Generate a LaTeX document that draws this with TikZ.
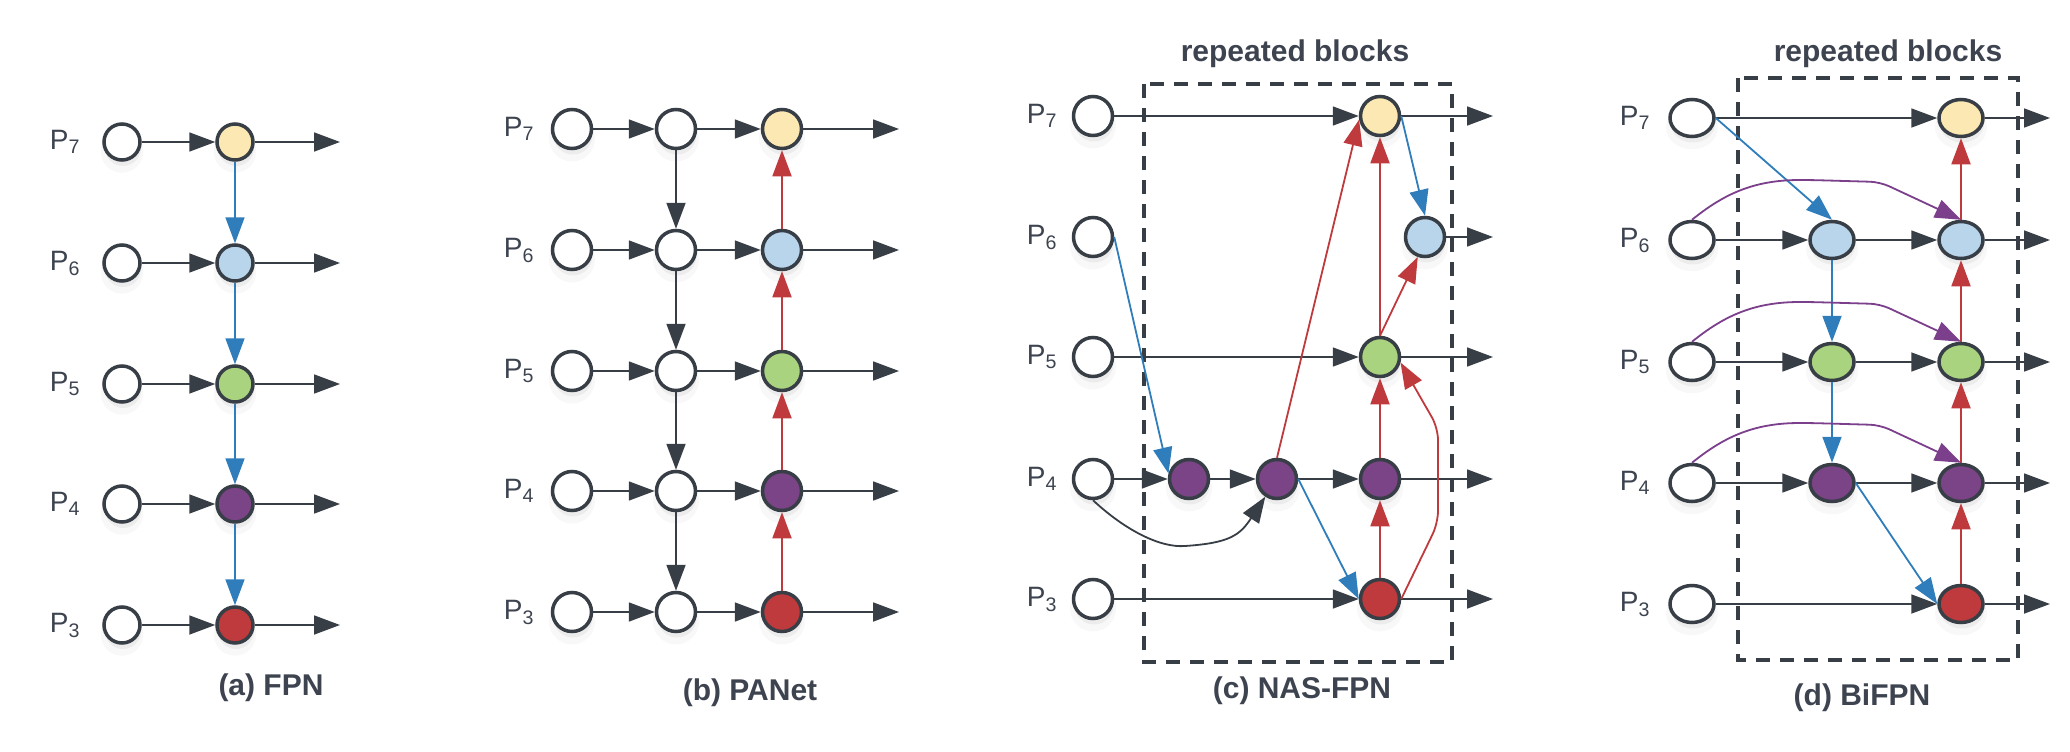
\documentclass[tikz,border=0pt]{standalone}
\usepackage{fontspec}
\setmainfont{Liberation Sans}
\usetikzlibrary{arrows.meta,shapes.geometric,shadows}

\definecolor{edgegray}{HTML}{383E46}
\definecolor{txtgray}{HTML}{3D4450}
\definecolor{fpnyellow}{HTML}{FCE8B2}
\definecolor{fpnblue}{HTML}{B8D5EC}
\definecolor{fpngreen}{HTML}{A9D37E}
\definecolor{fpnpurple}{HTML}{7B4486}
\definecolor{fpnred}{HTML}{BE3A3C}
\definecolor{arrblue}{HTML}{2F7DBB}
\definecolor{arrred}{HTML}{BF3A3D}
\definecolor{arrpurple}{HTML}{7B3F8C}

\begin{document}
\begin{tikzpicture}[x=1pt,y=-1pt,
  pnode/.style={circle,draw=edgegray,line width=3.5pt,fill=white,minimum size=39pt,inner sep=0pt,
    drop shadow={shadow xshift=0pt,shadow yshift=-8pt,shadow scale=1.18,opacity=0.06},
    drop shadow={shadow xshift=1pt,shadow yshift=-6pt,opacity=0.10}},
  snode/.style={pnode,minimum size=36pt},
  enode/.style={pnode,ellipse,minimum width=44pt,minimum height=37pt},
  hflow/.style={-{Triangle[length=26pt,width=19pt]},line width=1.8pt,draw=edgegray},
  tdflow/.style={hflow,draw=arrblue},
  buflow/.style={hflow,draw=arrred},
  skflow/.style={hflow,draw=arrpurple},
  lab/.style={font=\fontsize{28}{30}\selectfont,text=txtgray,anchor=base},
  ttl/.style={font=\bfseries\fontsize{30}{32}\selectfont,text=txtgray,anchor=base},
  blockbox/.style={draw=edgegray,line width=3.5pt,dash pattern=on 14pt off 10pt}]
\useasboundingbox (0,0) rectangle (2070,752);

% (a) FPN
\node[lab] (aP7) at (65,149) {P\textsubscript{7}};
\node[lab] (aP6) at (65,270) {P\textsubscript{6}};
\node[lab] (aP5) at (65,391) {P\textsubscript{5}};
\node[lab] (aP4) at (65,511) {P\textsubscript{4}};
\node[lab] (aP3) at (65,632) {P\textsubscript{3}};

\node[snode] (ai7) at (122,142) {};
\node[snode] (ai6) at (122,263) {};
\node[snode] (ai5) at (122,384) {};
\node[snode] (ai4) at (122,504) {};
\node[snode] (ai3) at (122,625) {};

\node[snode,fill=fpnyellow] (a7) at (235,142) {};
\node[snode,fill=fpnblue] (a6) at (235,263) {};
\node[snode,fill=fpngreen] (a5) at (235,384) {};
\node[snode,fill=fpnpurple] (a4) at (235,504) {};
\node[snode,fill=fpnred] (a3) at (235,625) {};

\coordinate (ao7) at (340,142);
\coordinate (ao6) at (340,263);
\coordinate (ao5) at (340,384);
\coordinate (ao4) at (340,504);
\coordinate (ao3) at (340,625);

\draw[hflow] (ai7) -- (a7);
\draw[hflow] (ai6) -- (a6);
\draw[hflow] (ai5) -- (a5);
\draw[hflow] (ai4) -- (a4);
\draw[hflow] (ai3) -- (a3);
\draw[hflow] (a7) -- (ao7);
\draw[hflow] (a6) -- (ao6);
\draw[hflow] (a5) -- (ao5);
\draw[hflow] (a4) -- (ao4);
\draw[hflow] (a3) -- (ao3);
\draw[tdflow] (a7) -- (a6);
\draw[tdflow] (a6) -- (a5);
\draw[tdflow] (a5) -- (a4);
\draw[tdflow] (a4) -- (a3);

\node[ttl] (atitle) at (271,695) {(a) FPN};

% (b) PANet
\node[lab] (bP7) at (519,136) {P\textsubscript{7}};
\node[lab] (bP6) at (519,257) {P\textsubscript{6}};
\node[lab] (bP5) at (519,378) {P\textsubscript{5}};
\node[lab] (bP4) at (519,498) {P\textsubscript{4}};
\node[lab] (bP3) at (519,619) {P\textsubscript{3}};

\node[pnode] (bi7) at (572,129) {};
\node[pnode] (bi6) at (572,250) {};
\node[pnode] (bi5) at (572,371) {};
\node[pnode] (bi4) at (572,491) {};
\node[pnode] (bi3) at (572,612) {};

\node[pnode] (bm7) at (676,129) {};
\node[pnode] (bm6) at (676,250) {};
\node[pnode] (bm5) at (676,371) {};
\node[pnode] (bm4) at (676,491) {};
\node[pnode] (bm3) at (676,612) {};

\node[pnode,fill=fpnyellow] (b7) at (782,129) {};
\node[pnode,fill=fpnblue] (b6) at (782,250) {};
\node[pnode,fill=fpngreen] (b5) at (782,371) {};
\node[pnode,fill=fpnpurple] (b4) at (782,491) {};
\node[pnode,fill=fpnred] (b3) at (782,612) {};

\coordinate (bo7) at (899,129);
\coordinate (bo6) at (899,250);
\coordinate (bo5) at (899,371);
\coordinate (bo4) at (899,491);
\coordinate (bo3) at (899,612);

\draw[hflow] (bi7) -- (bm7);
\draw[hflow] (bi6) -- (bm6);
\draw[hflow] (bi5) -- (bm5);
\draw[hflow] (bi4) -- (bm4);
\draw[hflow] (bi3) -- (bm3);
\draw[hflow] (bm7) -- (b7);
\draw[hflow] (bm6) -- (b6);
\draw[hflow] (bm5) -- (b5);
\draw[hflow] (bm4) -- (b4);
\draw[hflow] (bm3) -- (b3);
\draw[hflow] (b7) -- (bo7);
\draw[hflow] (b6) -- (bo6);
\draw[hflow] (b5) -- (bo5);
\draw[hflow] (b4) -- (bo4);
\draw[hflow] (b3) -- (bo3);
\draw[hflow] (bm7) -- (bm6);
\draw[hflow] (bm6) -- (bm5);
\draw[hflow] (bm5) -- (bm4);
\draw[hflow] (bm4) -- (bm3);
\draw[buflow] (b3) -- (b4);
\draw[buflow] (b4) -- (b5);
\draw[buflow] (b5) -- (b6);
\draw[buflow] (b6) -- (b7);

\node[ttl] (btitle) at (750,700) {(b) PANet};

% (c) NAS-FPN
\draw[blockbox] (1144,84) rectangle (1452,662);
\node[ttl] (crep) at (1295,62) {repeated blocks};

\node[lab] (cP7) at (1042,123) {P\textsubscript{7}};
\node[lab] (cP6) at (1042,244) {P\textsubscript{6}};
\node[lab] (cP5) at (1042,364) {P\textsubscript{5}};
\node[lab] (cP4) at (1042,486) {P\textsubscript{4}};
\node[lab] (cP3) at (1042,606) {P\textsubscript{3}};

\node[pnode] (ci7) at (1093,116) {};
\node[pnode] (ci6) at (1093,237) {};
\node[pnode] (ci5) at (1093,357) {};
\node[pnode] (ci4) at (1093,479) {};
\node[pnode] (ci3) at (1093,599) {};

\node[pnode,fill=fpnpurple] (c4a) at (1189,479) {};
\node[pnode,fill=fpnpurple] (c4b) at (1277,479) {};
\node[pnode,fill=fpnyellow] (c7) at (1380,116) {};
\node[pnode,fill=fpnblue] (c6) at (1425,237) {};
\node[pnode,fill=fpngreen] (c5) at (1380,357) {};
\node[pnode,fill=fpnpurple] (c4) at (1380,479) {};
\node[pnode,fill=fpnred] (c3) at (1380,599) {};

\coordinate (co7) at (1493,116);
\coordinate (co6) at (1493,237);
\coordinate (co5) at (1493,357);
\coordinate (co4) at (1493,479);
\coordinate (co3) at (1493,599);

\draw[hflow] (ci7) -- (c7);
\draw[hflow] (ci5) -- (c5);
\draw[hflow] (ci4) -- (c4a);
\draw[hflow] (c4a) -- (c4b);
\draw[hflow] (c4b) -- (c4);
\draw[hflow] (ci3) -- (c3);
\draw[hflow] (c7) -- (co7);
\draw[hflow] (c6) -- (co6);
\draw[hflow] (c5) -- (co5);
\draw[hflow] (c4) -- (co4);
\draw[hflow] (c3) -- (co3);
\draw[hflow] (ci4.south) .. controls (1125,530) and (1160,548) .. (1185,546)
  .. controls (1230,543) and (1240,535) .. (c4b);
\draw[tdflow] (ci6.east) -- (c4a.165);
\draw[tdflow] (c4b.east) -- (c3.west);
\draw[tdflow] (c7.east) -- (c6.north);
\draw[buflow] (c4b.north) -- (c7.190);
\draw[buflow] (c3) -- (c4);
\draw[buflow] (c4) -- (c5);
\draw[buflow] (c5) -- (c7);
\draw[buflow] (c5.north) -- (c6.250);
\draw[buflow,rounded corners=12pt] (c3.east) -- (1438,523) -- (1438,428) -- (c5.-15);

\node[ttl] (ctitle) at (1302,698) {(c) NAS-FPN};

% (d) BiFPN
\draw[blockbox] (1738,78) rectangle (2018,660);
\node[ttl] (drep) at (1888,62) {repeated blocks};

\node[lab] (dP7) at (1635,125) {P\textsubscript{7}};
\node[lab] (dP6) at (1635,247) {P\textsubscript{6}};
\node[lab] (dP5) at (1635,369) {P\textsubscript{5}};
\node[lab] (dP4) at (1635,490) {P\textsubscript{4}};
\node[lab] (dP3) at (1635,611) {P\textsubscript{3}};

\node[enode] (di7) at (1692,118) {};
\node[enode] (di6) at (1692,240) {};
\node[enode] (di5) at (1692,362) {};
\node[enode] (di4) at (1692,483) {};
\node[enode] (di3) at (1692,604) {};

\node[enode,fill=fpnblue] (dm6) at (1832,240) {};
\node[enode,fill=fpngreen] (dm5) at (1832,362) {};
\node[enode,fill=fpnpurple] (dm4) at (1832,483) {};

\node[enode,fill=fpnyellow] (d7) at (1961,118) {};
\node[enode,fill=fpnblue] (d6) at (1961,240) {};
\node[enode,fill=fpngreen] (d5) at (1961,362) {};
\node[enode,fill=fpnpurple] (d4) at (1961,483) {};
\node[enode,fill=fpnred] (d3) at (1961,604) {};

\coordinate (do7) at (2050,118);
\coordinate (do6) at (2050,240);
\coordinate (do5) at (2050,362);
\coordinate (do4) at (2050,483);
\coordinate (do3) at (2050,604);

\draw[hflow] (di7) -- (d7);
\draw[hflow] (di6) -- (dm6);
\draw[hflow] (di5) -- (dm5);
\draw[hflow] (di4) -- (dm4);
\draw[hflow] (di3) -- (d3);
\draw[hflow] (dm6) -- (d6);
\draw[hflow] (dm5) -- (d5);
\draw[hflow] (dm4) -- (d4);
\draw[hflow] (d7) -- (do7);
\draw[hflow] (d6) -- (do6);
\draw[hflow] (d5) -- (do5);
\draw[hflow] (d4) -- (do4);
\draw[hflow] (d3) -- (do3);
\draw[tdflow] (di7.east) -- (dm6.north);
\draw[tdflow] (dm6) -- (dm5);
\draw[tdflow] (dm5) -- (dm4);
\draw[tdflow] (dm4.east) -- (d3.west);
\draw[buflow] (d3) -- (d4);
\draw[buflow] (d4) -- (d5);
\draw[buflow] (d5) -- (d6);
\draw[buflow] (d6) -- (d7);
\draw[skflow,rounded corners=10pt] (di6.north) .. controls (1725,193) and (1755,180) .. (1810,180) -- (1880,182) -- (d6.north);
\draw[skflow,rounded corners=10pt] (di5.north) .. controls (1725,315) and (1755,302) .. (1810,302) -- (1880,304) -- (d5.north);
\draw[skflow,rounded corners=10pt] (di4.north) .. controls (1725,436) and (1755,423) .. (1810,423) -- (1880,425) -- (d4.north);

\node[ttl] (dtitle) at (1862,705) {(d) BiFPN};
\end{tikzpicture}
\end{document}
